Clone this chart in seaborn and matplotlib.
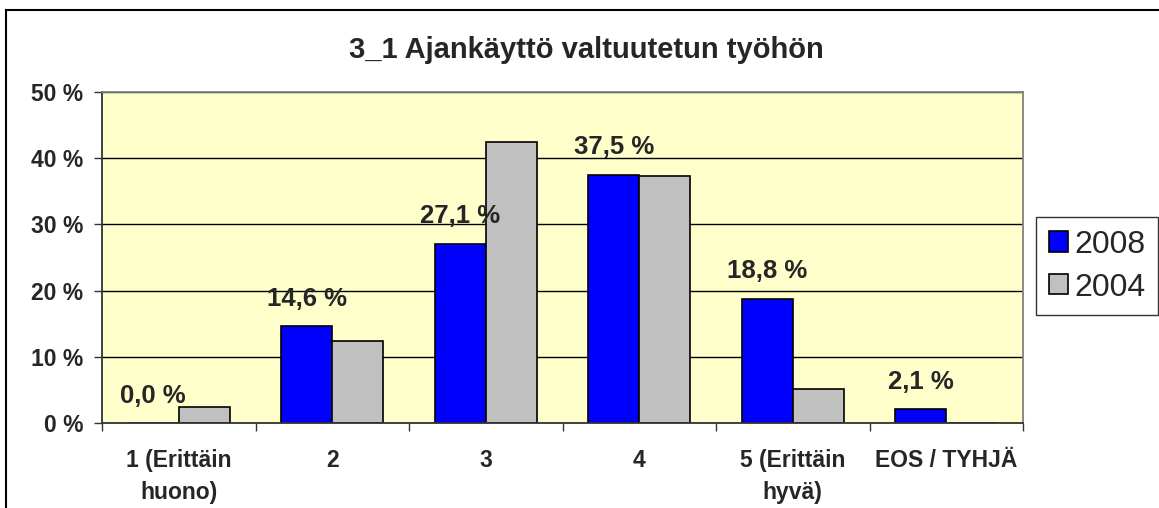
import pandas as pd
import matplotlib
matplotlib.use("Agg")
import matplotlib.pyplot as plt
import seaborn as sns
from matplotlib.patches import Rectangle, Patch
from matplotlib.ticker import FixedLocator

# --- data ---
categories = ["1 (Erittäin\nhuono)", "2", "3", "4", "5 (Erittäin\nhyvä)", "EOS / TYHJÄ"]
years = ["2008", "2004"]
values_2008 = [0.0, 14.6, 27.1, 37.5, 18.8, 2.1]
values_2004 = [2.4, 12.4, 42.4, 37.3, 5.1, 0.0]
y_ticks = [0, 10, 20, 30, 40, 50]

df = pd.DataFrame({
    "kategoria": categories * 2,
    "vuosi": [years[0]] * len(categories) + [years[1]] * len(categories),
    "osuus": values_2008 + values_2004,
})

sns.set_theme(style="white")
plt.rcParams["font.family"] = ["Liberation Sans", "DejaVu Sans"]

fig = plt.figure(figsize=(11.59, 5.08), dpi=100)
fig.patch.set_facecolor("white")
W, H = 1159, 508
ax = fig.add_axes([102 / W, 1 - 423 / H, (1023 - 102) / W, (423 - 92) / H])

palette = {"2008": "#0000FF", "2004": "#C0C0C0"}
sns.barplot(data=df, x="kategoria", y="osuus", hue="vuosi", hue_order=years,
            palette=palette, width=0.667, edgecolor="black", linewidth=1.2,
            saturation=1, ax=ax, legend=False)

ax.set_facecolor("#FFFFCC")
ax.set_xlim(-0.5, len(categories) - 0.5)
ax.set_ylim(0, 50)
ax.set_xlabel("")
ax.set_ylabel("")
ax.set_yticks(y_ticks)
ax.set_yticklabels([f"{t} %" for t in y_ticks], fontsize=16.5, fontweight="bold")
ax.yaxis.grid(True, color="black", linewidth=1)
ax.set_axisbelow(True)

ax.tick_params(axis="y", direction="out", length=5.5, width=1, color="#333333", pad=8, left=True)
ax.tick_params(axis="x", which="major", length=0, pad=19)
ax.xaxis.set_minor_locator(FixedLocator([i - 0.5 for i in range(len(categories) + 1)]))
ax.tick_params(axis="x", which="minor", direction="out", length=6, width=1, color="#333333", bottom=True)
for lbl in ax.get_xticklabels():
    lbl.set_fontsize(16.5)
    lbl.set_fontweight("bold")
    lbl.set_linespacing(1.5)

for side in ["left", "bottom"]:
    ax.spines[side].set_color("#333333")
    ax.spines[side].set_linewidth(1.3)
for side in ["top", "right"]:
    ax.spines[side].set_color("#808080")
    ax.spines[side].set_linewidth(1.3)

# value labels on the 2008 bars
labels = [f"{v:.1f} %".replace(".", ",") for v in values_2008]
ax.bar_label(ax.containers[0], labels=labels, padding=11, fontsize=18.5, fontweight="bold")

# title
fig.text(586 / W, 1 - 50 / H, "3_1 Ajankäyttö valtuutetun työhön", ha="center", va="center",
         fontsize=21, fontweight="bold")

# legend
handles = [Patch(facecolor=palette[y], edgecolor="black", linewidth=1.2) for y in years]
leg = fig.legend(handles, years, loc="upper left", bbox_to_anchor=(1036 / W, 1 - 217 / H),
                 bbox_transform=fig.transFigure, borderaxespad=0, fancybox=False,
                 frameon=True, edgecolor="black", fontsize=23, handlelength=0.6,
                 handleheight=0.6, handletextpad=0.2, labelspacing=0.4, borderpad=0.4)
leg.get_frame().set_linewidth(1)

# outer chart border
fig.patches.append(Rectangle((6 / W, -0.1), 1.2, 1 - 10 / H + 0.1, transform=fig.transFigure,
                             fill=False, edgecolor="black", linewidth=1.5))

fig.savefig("out.png", dpi=100)
